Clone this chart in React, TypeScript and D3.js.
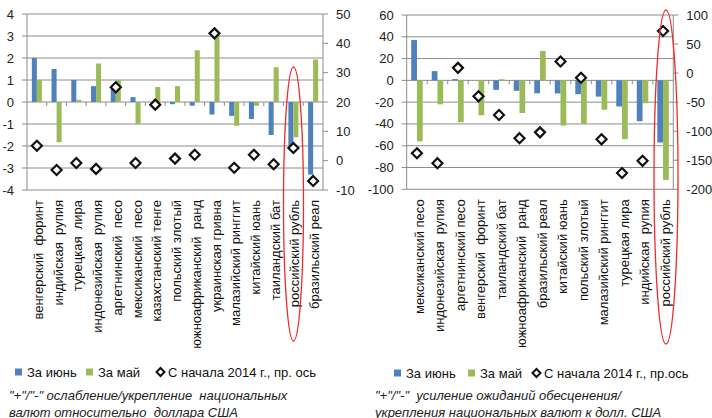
import React from "react";
import * as d3 from "d3";

// Left panel: exchange-rate changes vs USD, %
const fxCategories = [
  "венгерский  форинт",
  "индийская  рупия",
  "турецкая  лира",
  "индонезийская  рупия",
  "аргетнинский  песо",
  "мексиканский  песо",
  "казахстанский тенге",
  "польский злотый",
  "южноафриканский  ранд",
  "украинская гривна",
  "малазийский ринггит",
  "китайский юань",
  "таиландский бат",
  "российский рубль",
  "бразильский реал",
];
const fxJune = [2.0, 1.5, 1.0, 0.72, 0.6, 0.22, 0.0, -0.1, -0.17, -0.57, -0.63, -0.77, -1.5, -2.0, -3.3];
const fxMay = [1.0, -1.83, 0.1, 1.75, 1.0, -1.0, 0.68, 0.72, 2.35, 3.1, -1.08, -0.17, 1.58, -1.6, 1.93];
const fxYtd = [5.1, -3.2, -0.8, -2.8, 25.0, -0.8, 19.1, 0.7, 2.0, 43.4, -2.4, 2.0, -1.2, 4.3, -6.9];
const fxLeftTicks = [-4, -3, -2, -1, 0, 1, 2, 3, 4];
const fxRightTicks = [-10, 0, 10, 20, 30, 40, 50];

// Right panel: change in devaluation expectations
const expCategories = [
  "мексиканский песо",
  "индонезийская  рупия",
  "аргетнинский песо",
  "венгерский  форинт",
  "таиландский бат",
  "южноафриканский  ранд",
  "бразильский реал",
  "китайский юань",
  "польский злотый",
  "малазийский ринггит",
  "турецкая лира",
  "индийская  рупия",
  "российский рубль",
];
const expJune = [37, 8.5, 1.2, 0, -8.7, -9.6, -11.8, -12, -12.7, -14.9, -24, -37.5, -57];
const expMay = [-56, -22, -38.5, -32, 1, -30, 27, -41.5, -40, -27, -54, -21, -91.4];
const expYtd = [-138, -155, 9, -40, -72, -112, -102, 20, -8, -114, -172, -151, 72.5];
const expLeftTicks = [-100, -80, -60, -40, -20, 0, 20, 40, 60];
const expRightTicks = [-200, -150, -100, -50, 0, 50, 100];

const legendLabelsFx = ["За июнь", "За май", "С начала 2014 г., пр. ось"];
const legendLabelsExp = ["За июнь", "За май", "С начала 2014 г., пр.ось"];
const noteFx = ['"+"/"-" ослабление/укрепление  национальных', "валют относительно  доллара США"];
const noteExp = ['"+"/"-"  усиление ожиданий обесценения/', "укрепления национальных валют к долл. США"];

const BLUE = "#4f81bd";
const GREEN = "#9bbb59";
const GRID = "#8c8c8c";
const FONT = "'Liberation Sans', Arial, sans-serif";

function diamondPath(cx: number, cy: number, r: number) {
  return `M${cx},${cy - r}L${cx + r},${cy}L${cx},${cy + r}L${cx - r},${cy}Z`;
}

type PanelProps = {
  categories: string[];
  june: number[];
  may: number[];
  ytd: number[];
  leftTicks: number[];
  rightTicks: number[];
  left: number;
  right: number;
  top: number;
  bottom: number;
  padding: number;
  labelShift: number;
};

function Panel(p: PanelProps) {
  const x = d3
    .scaleBand<string>()
    .domain(p.categories)
    .range([p.left, p.right])
    .paddingInner(p.padding)
    .paddingOuter(p.padding / 2);
  const sub = d3.scaleBand<string>().domain(["june", "may"]).range([0, x.bandwidth()]);
  const yL = d3
    .scaleLinear()
    .domain(d3.extent(p.leftTicks) as [number, number])
    .range([p.bottom, p.top]);
  const yR = d3
    .scaleLinear()
    .domain(d3.extent(p.rightTicks) as [number, number])
    .range([p.bottom, p.top]);
  const step = x.step();
  const zero = yL(0);

  const bar = (v: number) => ({ y: Math.min(yL(v), zero), h: Math.abs(yL(v) - zero) });

  return (
    <g fontFamily={FONT}>
      {/* gridlines + left axis */}
      {p.leftTicks.map((t) => (
        <g key={"gl" + t}>
          <line x1={p.left - 5} x2={p.right} y1={yL(t)} y2={yL(t)} stroke={GRID} strokeWidth={1} />
          <text x={p.left - 13} y={yL(t)} dy="0.35em" textAnchor="end" fontSize={13} fill="#222">
            {t}
          </text>
        </g>
      ))}
      <line x1={p.left} x2={p.left} y1={p.top} y2={p.bottom} stroke={GRID} />
      {/* right axis */}
      <line x1={p.right} x2={p.right} y1={p.top} y2={p.bottom} stroke={GRID} />
      {p.rightTicks.map((t) => (
        <g key={"gr" + t}>
          <line x1={p.right} x2={p.right + 5} y1={yR(t)} y2={yR(t)} stroke={GRID} />
          <text x={p.right + 13} y={yR(t)} dy="0.35em" textAnchor="start" fontSize={13} fill="#222">
            {t}
          </text>
        </g>
      ))}
      {/* category ticks on the zero line */}
      {p.categories.slice(1).map((c, i) => (
        <line
          key={"ct" + i}
          x1={p.left + step * (i + 1)}
          x2={p.left + step * (i + 1)}
          y1={zero}
          y2={zero + 4}
          stroke={GRID}
        />
      ))}
      {/* bars */}
      {p.categories.map((c, i) => {
        const bj = bar(p.june[i]);
        const bm = bar(p.may[i]);
        return (
          <g key={"b" + i}>
            <rect x={(x(c) as number) + (sub("june") as number)} y={bj.y} width={sub.bandwidth()} height={bj.h} fill={BLUE} />
            <rect x={(x(c) as number) + (sub("may") as number)} y={bm.y} width={sub.bandwidth()} height={bm.h} fill={GREEN} />
          </g>
        );
      })}
      {/* year-to-date markers on the right axis */}
      {p.categories.map((c, i) => (
        <path
          key={"d" + i}
          d={diamondPath((x(c) as number) + x.bandwidth() / 2, yR(p.ytd[i]), 5)}
          fill="#fff"
          stroke="#111"
          strokeWidth={2.2}
        />
      ))}
      {/* category labels */}
      {p.categories.map((c, i) => {
        const cx = (x(c) as number) + x.bandwidth() / 2 + p.labelShift;
        const ty = p.bottom + 10;
        return (
          <text
            key={"l" + i}
            transform={`translate(${cx},${ty}) rotate(-90)`}
            dy="0.35em"
            textAnchor="end"
            fontSize={13}
            fill="#111"
            style={{ whiteSpace: "pre" }}
          >
            {c}
          </text>
        );
      })}
    </g>
  );
}

function Legend({ x0, y, labels, offsets }: { x0: number; y: number; labels: string[]; offsets: number[] }) {
  return (
    <g fontFamily={FONT} fontSize={13} fill="#111">
      <rect x={x0 + offsets[0]} y={y - 3.5} width={7} height={7} fill={BLUE} />
      <text x={x0 + offsets[0] + 12} y={y} dy="0.35em">{labels[0]}</text>
      <rect x={x0 + offsets[1]} y={y - 3.5} width={7} height={7} fill={GREEN} />
      <text x={x0 + offsets[1] + 12} y={y} dy="0.35em">{labels[1]}</text>
      <path d={diamondPath(x0 + offsets[2] + 3.5, y, 4)} fill="#fff" stroke="#111" strokeWidth={2} />
      <text x={x0 + offsets[2] + 11} y={y} dy="0.35em">{labels[2]}</text>
    </g>
  );
}

function Note({ x, y, lines }: { x: number; y: number; lines: string[] }) {
  return (
    <g fontFamily={FONT} fontSize={13} fontStyle="italic" fill="#222">
      {lines.map((l, i) => (
        <text key={i} x={x} y={y + i * 17} style={{ whiteSpace: "pre" }}>
          {l}
        </text>
      ))}
    </g>
  );
}

export default function App() {
  return (
    <svg
      width={712}
      height={418}
      viewBox="0 0 712 418"
      style={{ position: "absolute", left: 0, top: 0, display: "block", background: "#fff" }}
    >
      <rect width={712} height={418} fill="#fff" />
      <Panel
        categories={fxCategories}
        june={fxJune}
        may={fxMay}
        ytd={fxYtd}
        leftTicks={fxLeftTicks}
        rightTicks={fxRightTicks}
        left={27}
        right={323}
        top={14}
        bottom={190}
        padding={0.49}
        labelShift={1.5}
      />
      <Panel
        categories={expCategories}
        june={expJune}
        may={expMay}
        ytd={expYtd}
        leftTicks={expLeftTicks}
        rightTicks={expRightTicks}
        left={406.7}
        right={673.3}
        top={15}
        bottom={189.3}
        padding={0.44}
        labelShift={2}
      />
      {/* highlight around the rouble */}
      <ellipse cx={293.5} cy={204} rx={10} ry={137} fill="none" stroke="#ee2b2b" strokeWidth={1.3} />
      <ellipse cx={666} cy={177} rx={12} ry={167} fill="none" stroke="#ee2b2b" strokeWidth={1.3} />
      <Legend x0={0} y={372} labels={legendLabelsFx} offsets={[15, 86, 157]} />
      <Legend x0={355} y={373} labels={legendLabelsExp} offsets={[39, 113, 178]} />
      <Note x={9} y={399.5} lines={noteFx} />
      <Note x={375} y={399.5} lines={noteExp} />
    </svg>
  );
}
